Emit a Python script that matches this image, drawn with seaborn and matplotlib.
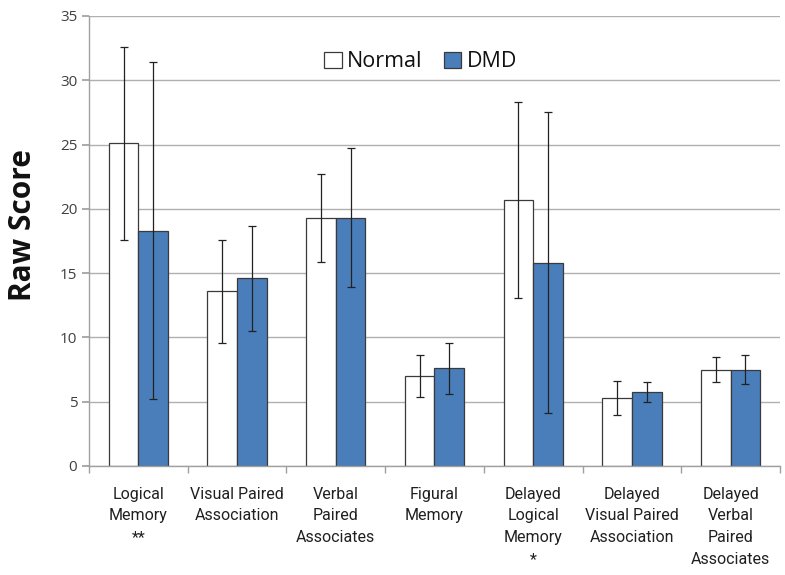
import matplotlib
matplotlib.use("Agg")
import matplotlib.pyplot as plt
from matplotlib.patches import Patch
import numpy as np
import pandas as pd
import seaborn as sns

# Memory subtest labels and group scores (mean, SD)
categories = [
    "Logical\nMemory\n**",
    "Visual Paired\nAssociation",
    "Verbal\nPaired\nAssociates",
    "Figural\nMemory",
    "Delayed\nLogical\nMemory\n*",
    "Delayed\nVisual Paired\nAssociation",
    "Delayed\nVerbal\nPaired\nAssociates",
]
groups = ["Normal", "DMD"]
normal_mean = [25.1, 13.6, 19.3, 7.0, 20.7, 5.3, 7.5]
normal_sd = [7.5, 4.0, 3.4, 1.6, 7.6, 1.3, 1.0]
dmd_mean = [18.3, 14.6, 19.3, 7.6, 15.8, 5.75, 7.5]
dmd_sd = [13.1, 4.1, 5.4, 2.0, 11.7, 0.8, 1.1]
yticks = [0, 5, 10, 15, 20, 25, 30, 35]

df = pd.DataFrame({
    "test": categories * 2,
    "group": ["Normal"] * len(categories) + ["DMD"] * len(categories),
    "score": normal_mean + dmd_mean,
    "sd": normal_sd + dmd_sd,
})

sns.set_theme(style="white")
plt.rcParams["font.family"] = ["Open Sans", "DejaVu Sans"]

fig = plt.figure(figsize=(7.85, 5.75), dpi=100)
ax = fig.add_axes([0.1134, 0.1896, 0.8802, 0.7826])

colors = {"Normal": "#ffffff", "DMD": "#4A7EBB"}
sns.barplot(data=df, x="test", y="score", hue="group", order=categories,
            hue_order=groups, palette=colors, saturation=1, width=0.6,
            errorbar=None, edgecolor="#3a3a3a", linewidth=0.9, legend=False,
            ax=ax)

# error bars at each bar's centre
for cont, g in zip(ax.containers, groups):
    sub = df[df["group"] == g]
    xs = [p.get_x() + p.get_width() / 2 for p in cont.patches]
    ax.errorbar(xs, sub["score"].values, yerr=sub["sd"].values, fmt="none",
                ecolor="#222222", elinewidth=0.9, capsize=3, capthick=0.9,
                zorder=5)

ax.set_ylim(0, 35)
ax.set_xlim(-0.5, len(categories) - 0.5)
ax.set_yticks(yticks)
ax.yaxis.grid(True, color="#b0b0b0", linewidth=1.0)
ax.set_axisbelow(True)
for s in ["top", "right"]:
    ax.spines[s].set_visible(False)
for s in ["left", "bottom"]:
    ax.spines[s].set_color("#a0a0a0")
    ax.spines[s].set_linewidth(1.0)

ax.set_xlabel("")
ax.set_ylabel("Raw Score", fontsize=21.5, fontweight="bold", color="#111111")
ax.yaxis.set_label_coords(-0.074, 0.536)
ax.tick_params(axis="y", labelsize=11, colors="#404040", length=5,
               color="#a0a0a0", direction="out", left=True)
ax.tick_params(axis="x", which="major", length=0, labelsize=11.5,
               labelcolor="#202020", pad=15)
ax.set_xticks(np.arange(-0.5, len(categories), 1.0), minor=True)
ax.tick_params(axis="x", which="minor", length=5, color="#a0a0a0",
               direction="out", bottom=True)
for lbl in ax.get_xticklabels():
    lbl.set_linespacing(1.55)
    lbl.set_verticalalignment("top")
    lbl.set_family(["Roboto", "DejaVu Sans"])

handles = [Patch(facecolor=colors[g], edgecolor="#3a3a3a", linewidth=0.9,
                 label=g) for g in groups]
ax.legend(handles=handles, loc="center", bbox_to_anchor=(0.48, 0.898),
          ncol=2, frameon=False, fontsize=15.5, handlelength=0.8,
          handleheight=0.8, handletextpad=0.25, columnspacing=1.0,
          labelcolor="#111111")

fig.savefig("out.png", dpi=100, facecolor="white")
